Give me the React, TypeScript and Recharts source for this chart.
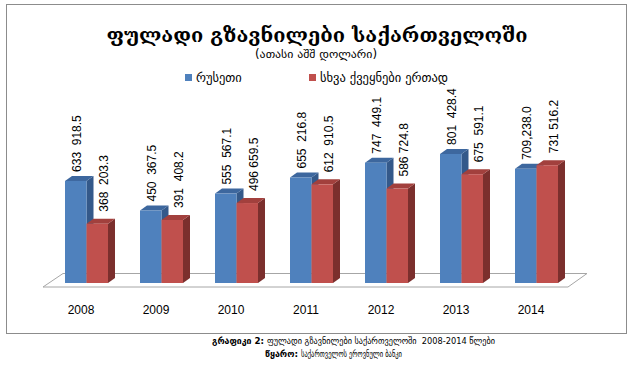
import React from 'react';
import * as Recharts from 'recharts';
import { BarChart, Bar, XAxis, YAxis, LabelList, Legend, Customized } from 'recharts';

const years = ['2008', '2009', '2010', '2011', '2012', '2013', '2014'];
const russia = [633918.5, 450367.5, 555567.1, 655216.8, 747449.1, 801428.4, 709238.0];
const others = [368203.3, 391408.2, 496659.5, 612910.5, 586724.8, 675591.1, 731516.2];
const russiaLabels = ['633  918.5', '450  367.5', '555  567.1', '655  216.8', '747  449.1', '801  428.4', '709,238.0'];
const otherLabels = ['368  203.3', '391  408.2', '496 659.5', '612  910.5', '586 724.8', '675  591.1', '731 516.2'];
const seriesNames = ['რუსეთი', 'სხვა ქვეყნები ერთად'];
const titleText = 'ფულადი გზავნილები საქართველოში';
const subtitleText = '(ათასი აშშ დოლარი)';
const captionLabel1 = 'გრაფიკი 2:';
const captionText1 = 'ფულადი გზავნილები საქართველოში  2008-2014 წლები';
const captionLabel2 = 'წყარო:';
const captionText2 = 'საქართველოს ეროვნული ბანკი';

const data = years.map((y, i) => ({
  year: y,
  russia: russia[i],
  others: others[i],
  rLabel: russiaLabels[i],
  oLabel: otherLabels[i],
}));

const BLUE = '#4F81BD';
const BLUE_TOP = '#3D679E';
const BLUE_SIDE = '#34598A';
const RED = '#C0504D';
const RED_TOP = '#A2403D';
const RED_SIDE = '#7B2F2D';

const GEO = '"DejaVu Sans", "Noto Sans", sans-serif';
const GEO_SERIF = '"DejaVu Serif", "DejaVu Sans", serif';
const NUM = '"Liberation Sans", Arial, sans-serif';

function make3D(front: string, top: string, side: string) {
  return (p: any) => {
    const { x, y, width: w, height: h } = p;
    if (w == null || h == null) return <g />;
    const dx = 7;
    const dy = 5;
    return (
      <g>
        <polygon points={`${x + w},${y} ${x + w + dx},${y - dy} ${x + w + dx},${y + h - dy} ${x + w},${y + h}`} fill={side} />
        <polygon points={`${x},${y} ${x + dx},${y - dy} ${x + w + dx},${y - dy} ${x + w},${y}`} fill={top} />
        <rect x={x} y={y} width={w} height={h} fill={front} />
      </g>
    );
  };
}

function makeLabel(offX: number, gap: number) {
  return (p: any) => {
    const { x, y, width, value } = p;
    const cx = x + width / 2 + offX;
    const by = y - gap;
    return (
      <text
        x={cx}
        y={by}
        transform={`rotate(-90 ${cx} ${by})`}
        textAnchor="start"
        dominantBaseline="central"
        fontFamily={NUM}
        fontSize={12}
        fill="#000"
        style={{ whiteSpace: 'pre' }}
      >
        {value}
      </text>
    );
  };
}

const anyR = Recharts as any;
function usePlot() {
  const hook = anyR.usePlotArea;
  if (hook) {
    const a = hook();
    if (a && a.width) return a;
  }
  return { x: 49, y: 122, width: 525, height: 161 };
}

function Floor() {
  const a = usePlot();
  const L = a.x;
  const R = a.x + a.width;
  const B = a.y + a.height;
  const pts = `${L - 6},${B + 4} ${R - 6},${B + 4} ${R + 13},${B - 9.5} ${L + 14},${B - 9.5}`;
  return (
    <g>
      <polygon points={pts} fill="#ffffff" stroke="#A6A6A6" strokeWidth={1} />
    </g>
  );
}

const YearTick = (p: any) => {
  const { x, y, payload } = p;
  return (
    <text x={x - 5.5} y={y + 23} textAnchor="middle" fontFamily={NUM} fontSize={12} fill="#000">
      {payload.value}
    </text>
  );
};

const LegendContent = (p: any) => {
  const payload = p.payload || [];
  const lefts = [185, 309];
  return (
    <div style={{ position: 'relative', width: 634, height: 16 }}>
      {payload.map((e: any, i: number) => (
        <div key={i} style={{ position: 'absolute', left: lefts[i], top: 0, display: 'flex', alignItems: 'center', height: 16 }}>
          <span style={{ display: 'inline-block', width: 7, height: 7, background: e.color, marginRight: 4 }} />
          <span style={{ fontFamily: GEO, fontSize: 12.5, color: '#000', whiteSpace: 'nowrap' }}>{e.value}</span>
        </div>
      ))}
    </div>
  );
};

export default function App() {
  return (
    <div style={{ position: 'absolute', left: 0, top: 0, width: 634, height: 368, background: '#fff', overflow: 'hidden' }}>
      <div style={{ position: 'absolute', left: 6, top: 4, width: 619, height: 328, border: '1px solid #8C8C8C' }} />
      <div style={{ position: 'absolute', left: 0, top: 0 }}>
        <BarChart
          width={634}
          height={368}
          data={data}
          margin={{ top: 122, right: 60, bottom: 55, left: 49 }}
          barSize={21.5}
          barGap={0}
        >
          <Customized component={Floor} />
          <XAxis dataKey="year" axisLine={false} tickLine={false} height={30} tick={<YearTick />} interval={0} />
          <YAxis hide domain={[0, 1000000]} />
          <Legend
            layout="horizontal"
            verticalAlign="middle"
            align="center"
            wrapperStyle={{ position: 'absolute', left: 0, top: 69, width: 634 }}
            content={<LegendContent />}
          />
          <Bar dataKey="russia" name={seriesNames[0]} fill={BLUE} isAnimationActive={false} shape={make3D(BLUE, BLUE_TOP, BLUE_SIDE)}>
            <LabelList dataKey="rLabel" content={makeLabel(1.5, 9)} />
          </Bar>
          <Bar dataKey="others" name={seriesNames[1]} fill={RED} isAnimationActive={false} shape={make3D(RED, RED_TOP, RED_SIDE)}>
            <LabelList dataKey="oLabel" content={makeLabel(6.5, 12)} />
          </Bar>
        </BarChart>
      </div>
      <svg width={634} height={368} style={{ position: 'absolute', left: 0, top: 0, pointerEvents: 'none' }}>
        <text x={317} y={42} textAnchor="middle" fontFamily={GEO_SERIF} fontWeight="bold" fontSize={20} fill="#000">
          {titleText}
        </text>
        <text x={316} y={58} textAnchor="middle" fontFamily={GEO} fontSize={11.5} fill="#000" textLength={122} lengthAdjust="spacingAndGlyphs">
          {subtitleText}
        </text>
        <text x={212} y={344} fontFamily={GEO} fontSize={9} fontWeight="bold" fill="#000" textLength={52} lengthAdjust="spacingAndGlyphs">
          {captionLabel1}
        </text>
        <text x={267} y={344} fontFamily={GEO} fontSize={9} fill="#000" style={{ whiteSpace: 'pre' }} textLength={228} lengthAdjust="spacingAndGlyphs">
          {captionText1}
        </text>
        <text x={265} y={357} fontFamily={GEO} fontSize={9} fontWeight="bold" fill="#000" textLength={33} lengthAdjust="spacingAndGlyphs">
          {captionLabel2}
        </text>
        <text x={301} y={357} fontFamily={GEO} fontSize={9} fill="#000" textLength={101} lengthAdjust="spacingAndGlyphs">
          {captionText2}
        </text>
      </svg>
    </div>
  );
}
